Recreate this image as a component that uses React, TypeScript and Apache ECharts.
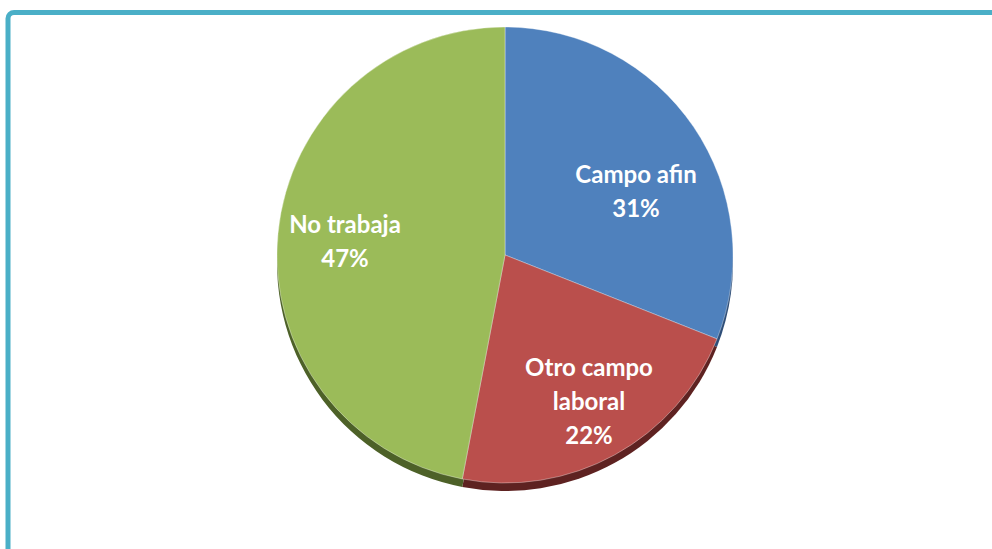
import React, { useEffect, useRef } from "react";
import * as echarts from "echarts";

const categories = ["Campo afin", "Otro campo laboral", "No trabaja"];
const percentages = [31, 22, 47];
const labelTexts = ["Campo afin\n31%", "Otro campo\nlaboral\n22%", "No trabaja\n47%"];

const topColors = ["#4F81BD", "#BA4F4C", "#9BBB59"];
const sideColors = ["#2E4E78", "#5E2221", "#4D6128"];
const labelPositions = [
  [636, 190],
  [589, 400],
  [345, 240],
];

export default function App() {
  const ref = useRef<HTMLDivElement>(null);
  useEffect(() => {
    if (!ref.current) return;
    const chart = echarts.init(ref.current, undefined, { renderer: "svg" });
    const cx = 505;
    const cy = 255;
    const r = 228;
    chart.setOption({
      animation: false,
      backgroundColor: "#ffffff",
      graphic: [
        {
          type: "rect",
          shape: { x: 8, y: 12.5, width: 1200, height: 800, r: 6 },
          style: { fill: "none", stroke: "#4AAFC7", lineWidth: 5 },
          z: 10,
        },
      ],
      series: [
        {
          type: "pie",
          silent: true,
          z: 1,
          center: [cx, cy + 8],
          radius: r,
          startAngle: 90,
          clockwise: true,
          label: { show: false },
          labelLine: { show: false },
          itemStyle: { borderWidth: 0 },
          data: categories.map((c, i) => ({
            name: c + " ",
            value: percentages[i],
            itemStyle: { color: sideColors[i] },
          })),
        },
        {
          type: "pie",
          z: 2,
          center: [cx, cy],
          radius: r,
          startAngle: 90,
          clockwise: true,
          itemStyle: { borderColor: "rgba(255,255,255,0.35)", borderWidth: 1 },
          label: {
            show: true,
            position: "inside",
            color: "#ffffff",
            fontFamily: "Lato",
            fontWeight: "bold",
            fontSize: 24,
            lineHeight: 34,
            align: "center",
            formatter: (p: any) => labelTexts[p.dataIndex],
          },
          labelLayout: (p: any) => ({
            x: labelPositions[p.dataIndex][0],
            y: labelPositions[p.dataIndex][1],
            align: "center",
            verticalAlign: "middle",
          }),
          labelLine: { show: false },
          data: categories.map((c, i) => ({
            name: c,
            value: percentages[i],
            itemStyle: { color: topColors[i] },
          })),
        },
      ],
    });
    return () => chart.dispose();
  }, []);
  return (
    <div
      ref={ref}
      style={{ position: "fixed", left: 0, top: 0, width: 992, height: 549 }}
    />
  );
}
